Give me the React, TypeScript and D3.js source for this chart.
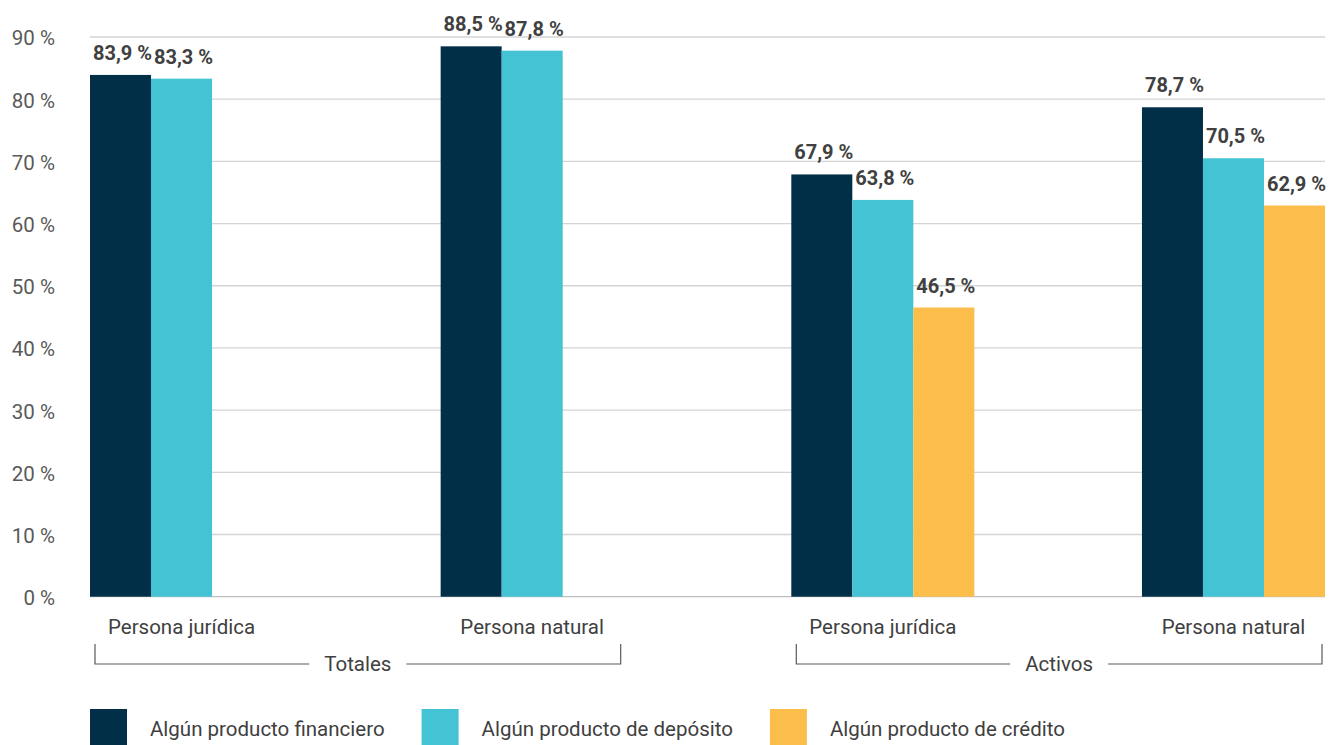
import React, { useEffect, useRef } from "react";
import * as d3 from "d3";

const categories = ["Persona jurídica", "Persona natural", "Persona jurídica", "Persona natural"];
const groupLabels = ["Totales", "Activos"];
const seriesNames = ["Algún producto financiero", "Algún producto de depósito", "Algún producto de crédito"];
const financiero = [83.9, 88.5, 67.9, 78.7];
const deposito = [83.3, 87.8, 63.8, 70.5];
const credito: (number | null)[] = [null, null, 46.5, 62.9];
const yTicks = [0, 10, 20, 30, 40, 50, 60, 70, 80, 90];
const colors = ["#022F48", "#44C3D4", "#FCBE4A"];

const FONT = "Roboto, 'Noto Sans', sans-serif";

export default function App() {
  const ref = useRef<SVGSVGElement | null>(null);

  useEffect(() => {
    const svg = d3.select(ref.current);
    svg.selectAll("*").remove();

    const left = 90, right = 1325, top = 37, bottom = 596.7;

    const x = d3.scaleBand<number>().domain(d3.range(categories.length)).range([left, right]).paddingInner(0.478).paddingOuter(0);
    const xs = d3.scaleBand<number>().domain([0, 1, 2]).range([0, x.bandwidth()]).padding(0);
    const y = d3.scaleLinear().domain([0, 90]).range([bottom, top]);

    // gridlines
    svg.append("g").selectAll("line").data(yTicks).join("line")
      .attr("x1", left).attr("x2", right)
      .attr("y1", (d) => y(d)).attr("y2", (d) => y(d))
      .attr("stroke", (d) => (d === 0 ? "#bfbfbf" : "#d4d4d4"))
      .attr("stroke-width", 1.3);

    // y labels
    svg.append("g").selectAll("text").data(yTicks).join("text")
      .attr("x", 55).attr("y", (d) => y(d) + 3)
      .attr("text-anchor", "end").attr("dominant-baseline", "middle")
      .attr("font-family", FONT).attr("font-size", 20.5).attr("fill", "#595959")
      .text((d) => `${d} %`);

    const series = [financiero, deposito, credito];
    const fmt = (v: number) => v.toFixed(1).replace(".", ",") + " %";

    series.forEach((vals, si) => {
      const data = vals.map((v, i) => ({ v, i })).filter((d) => d.v != null) as { v: number; i: number }[];
      svg.append("g").selectAll("rect").data(data).join("rect")
        .attr("x", (d) => (x(d.i) as number) + (xs(si) as number))
        .attr("width", xs.bandwidth())
        .attr("y", (d) => y(d.v))
        .attr("height", (d) => bottom - y(d.v))
        .attr("fill", colors[si]);
      svg.append("g").selectAll("text").data(data).join("text")
        .attr("x", (d) => (x(d.i) as number) + (xs(si) as number) + xs.bandwidth() / 2 + 2)
        .attr("y", (d) => y(d.v) - 15)
        .attr("text-anchor", "middle")
        .attr("font-family", FONT).attr("font-size", 20).attr("font-weight", 700).attr("fill", "#404040")
        .text((d) => fmt(d.v));
    });

    // category labels
    svg.append("g").selectAll("text").data(categories).join("text")
      .attr("x", (_, i) => (x(i) as number) + x.bandwidth() / 2)
      .attr("y", 634)
      .attr("text-anchor", "middle")
      .attr("font-family", FONT).attr("font-size", 20.5).attr("fill", "#404040")
      .text((d) => d);

    // group brackets
    groupLabels.forEach((g, gi) => {
      const x0 = (x(gi * 2) as number) + 5;
      const x1 = (x(gi * 2 + 1) as number) + x.bandwidth() - 3;
      const mid = (x0 + x1) / 2;
      const yl = 664;
      const t = svg.append("text")
        .attr("x", mid).attr("y", yl + 7)
        .attr("text-anchor", "middle")
        .attr("font-family", FONT).attr("font-size", 20.5).attr("fill", "#404040")
        .text(g);
      const tw = (t.node() as SVGTextElement).getComputedTextLength();
      const gap = tw / 2 + 15;
      const gg = svg.append("g").attr("fill", "none").attr("stroke", "#595959").attr("stroke-width", 1.2);
      gg.append("path").attr("d", `M${x0},${yl - 20}V${yl}H${mid - gap}`);
      gg.append("path").attr("d", `M${mid + gap},${yl}H${x1}V${yl - 20}`);
    });

    // legend
    let lx = 90;
    seriesNames.forEach((n, i) => {
      svg.append("rect").attr("x", lx).attr("y", 709).attr("width", 37).attr("height", 36).attr("fill", colors[i]);
      const t = svg.append("text")
        .attr("x", lx + 60).attr("y", 731)
        .attr("dominant-baseline", "middle")
        .attr("font-family", FONT).attr("font-size", 20.5).attr("fill", "#404040")
        .text(n);
      const tw = (t.node() as SVGTextElement).getComputedTextLength();
      lx = lx + 60 + tw + 37;
    });
  }, []);

  return (
    <svg ref={ref} width={1344} height={745} style={{ position: "absolute", left: 0, top: 0, background: "#fff" }} />
  );
}
